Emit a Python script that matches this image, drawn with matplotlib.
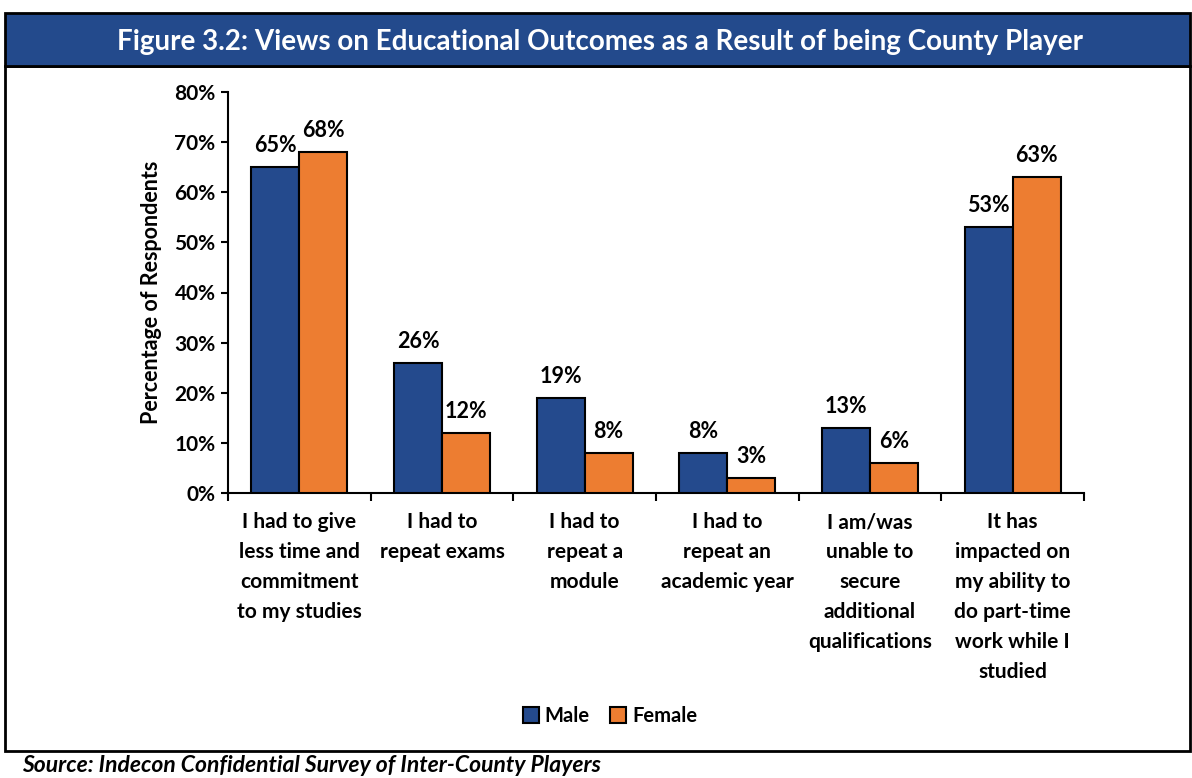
import matplotlib
matplotlib.use('Agg')
import matplotlib.pyplot as plt
from matplotlib.patches import Rectangle
import numpy as np

# Data
categories = [
    'I had to give\nless time and\ncommitment\nto my studies',
    'I had to\nrepeat exams',
    'I had to\nrepeat a\nmodule',
    'I had to\nrepeat an\nacademic year',
    'I am/was\nunable to\nsecure\nadditional\nqualifications',
    'It has\nimpacted on\nmy ability to\ndo part-time\nwork while I\nstudied',
]
male = [65, 26, 19, 8, 13, 53]
female = [68, 12, 8, 3, 6, 63]
series_names = ['Male', 'Female']
y_ticks = [0, 10, 20, 30, 40, 50, 60, 70, 80]

title = 'Figure 3.2: Views on Educational Outcomes as a Result of being County Player'
source = 'Source: Indecon Confidential Survey of Inter-County Players'

BLUE = '#244A8D'
ORANGE = '#ED7D31'
BANNER = '#234A8C'

plt.rcParams['font.family'] = ['Lato', 'DejaVu Sans']
plt.rcParams['font.weight'] = 'bold'

W, H = 1192, 778
fig = plt.figure(figsize=(W / 100, H / 100), dpi=100)

def fx(px):
    return px / W

def fy(py):
    return 1 - py / H

# outer box + banner (kept behind the axes)
fig.patches.append(Rectangle((fx(5), fy(751)), fx(1190) - fx(5), fy(66) - fy(751),
                             transform=fig.transFigure, facecolor='white',
                             edgecolor='black', linewidth=2, zorder=-2))
fig.patches.append(Rectangle((fx(5), fy(66)), fx(1190) - fx(5), fy(13) - fy(66),
                             transform=fig.transFigure, facecolor=BANNER,
                             edgecolor='black', linewidth=2, zorder=-1))
fig.text(fx(600), fy(42), title, color='white', fontsize=20, fontweight='bold',
         ha='center', va='center')
fig.text(fx(22), fy(765), source, fontsize=16.5, fontweight='bold', style='italic',
         ha='left', va='center')

ax = fig.add_axes([fx(228), fy(493), fx(1084) - fx(228), fy(92) - fy(493)])
ax.patch.set_alpha(0)
x = np.arange(len(categories))
bw = 0.336
b1 = ax.bar(x - bw / 2, male, bw, color=BLUE, edgecolor='black', linewidth=1.5,
            label=series_names[0], zorder=3)
b2 = ax.bar(x + bw / 2, female, bw, color=ORANGE, edgecolor='black', linewidth=1.5,
            label=series_names[1], zorder=3)

for bars in (b1, b2):
    for rect in bars:
        v = rect.get_height()
        ax.annotate(f'{v:.0f}%', (rect.get_x() + rect.get_width() / 2, v),
                    xytext=(0, 8), textcoords='offset points', ha='center', va='bottom',
                    fontsize=15.5, fontweight='bold')

ax.set_ylim(0, 80)
ax.set_xlim(-0.5, len(categories) - 0.5)
ax.set_yticks(y_ticks)
ax.set_yticklabels([f'{t}%' for t in y_ticks], fontsize=15, fontweight='bold')
ax.set_xticks(x)
ax.set_xticklabels(categories, fontsize=15, fontweight='bold', linespacing=1.62,
                   va='top')
ax.tick_params(axis='x', which='major', length=0, pad=14)
ax.set_xticks(np.arange(-0.5, len(categories)), minor=True)
ax.tick_params(axis='x', which='minor', length=6, width=1.5, direction='out')
ax.tick_params(axis='y', length=5, width=1.5, direction='out', pad=4)
ax.set_ylabel('Percentage of Respondents', fontsize=15.5, fontweight='bold', labelpad=9)

for s in ('top', 'right'):
    ax.spines[s].set_visible(False)
for s in ('left', 'bottom'):
    ax.spines[s].set_linewidth(1.5)

fig.legend(handles=[b1, b2], labels=series_names, loc='center',
           bbox_to_anchor=(fx(610), fy(716)), ncol=2, frameon=False,
           fontsize=14.5, handlelength=0.8, handleheight=0.8, handletextpad=0.3,
           columnspacing=1.0)

fig.savefig('out.png', dpi=100)
